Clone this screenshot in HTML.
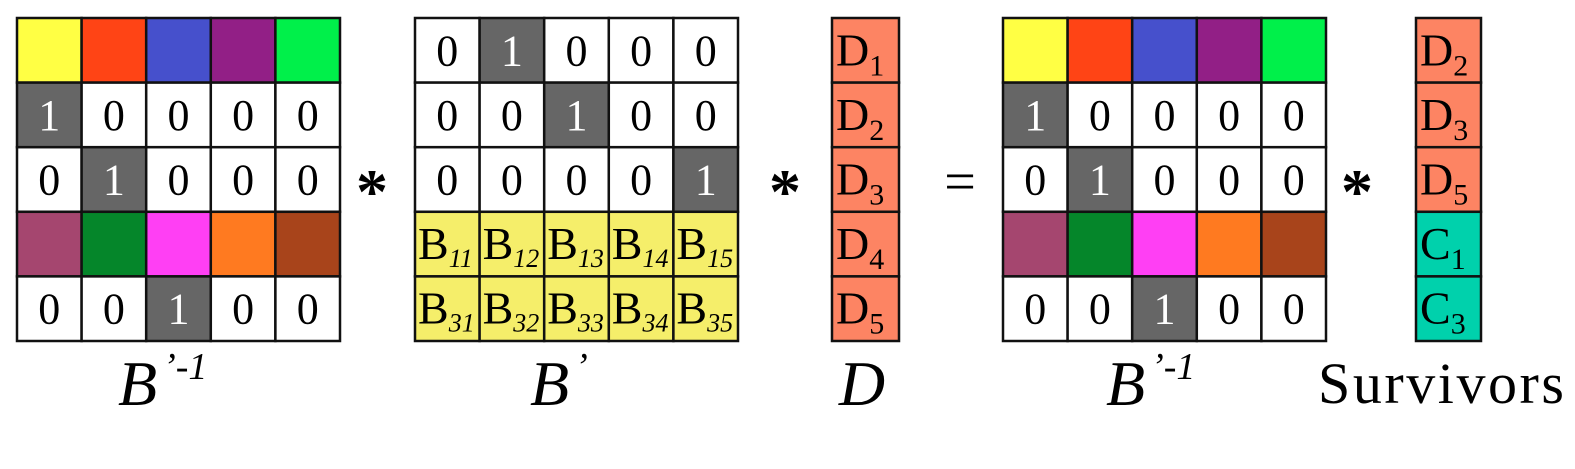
<!DOCTYPE html>
<html><head><meta charset="utf-8"><style>
html,body{margin:0;padding:0;background:#fff;}
svg{display:block;}
svg text{font-family:"Liberation Serif","Times New Roman",Times,"DejaVu Serif",serif;}
</style></head><body>
<svg id="s" width="1575" height="469" viewBox="0 0 1575 469"></svg>
<script>
const binvColors = [
 ["#ffff44","#ff4415","#4650cc","#921f86","#00f04a"],
 [1,0,0,0,0],
 [0,1,0,0,0],
 ["#a5466f","#05862a","#ff3ff4","#ff7a20","#a8441b"],
 [0,0,1,0,0]
];
const bPrime = [
 [0,1,0,0,0],
 [0,0,1,0,0],
 [0,0,0,0,1],
 ["11","12","13","14","15"],
 ["31","32","33","34","35"]
];
const dVec = ["1","2","3","4","5"];
const survLetters = ["D","D","D","C","C"];
const survSubs = ["2","3","5","1","3"];
const CELL = 64.6, TOP = 18;
const s = document.getElementById('s');
const NS = "http://www.w3.org/2000/svg";
function mk(tag, attrs, parent){const e=document.createElementNS(NS,tag);for(const k in attrs)e.setAttribute(k,attrs[k]);(parent||s).appendChild(e);return e;}
function cell(x,y,w,fill,name){
 const r=mk('rect',{x:x,y:y,width:w,height:CELL,fill:fill,stroke:'#111','stroke-width':2.5});
 
 
 return r;
}
function txt(x,y,str,size,fill,name,extra){
 const t=mk('text',Object.assign({x:x,y:y,'font-size':size,fill:fill,'text-anchor':'middle'},extra||{}));
 t.style.fontFamily = '"Liberation Serif", "Times New Roman", Times, "DejaVu Serif", serif';
 t.textContent=str;
 
 
 return t;
}
function drawBinv(x0,prefix){
 binvColors.forEach((row,i)=>row.forEach((v,j)=>{
  const x=x0+j*CELL,y=TOP+i*CELL;
  if(typeof v==='string'){cell(x,y,CELL,v,prefix+'-color-cell');}
  else{
   cell(x,y,CELL,v?'#666':'#fff',prefix+'-cell');
   txt(x+CELL/2,y+CELL/2+15,String(v),44,v?'#fff':'#000',prefix+'-value');
  }
 }));
}
drawBinv(17,'binv-left');
drawBinv(1003,'binv-right');
const x2=415;
bPrime.forEach((row,i)=>row.forEach((v,j)=>{
 const x=x2+j*CELL,y=TOP+i*CELL;
 if(typeof v==='string'){
  cell(x,y,CELL,'#f5ee6a','bprime-b-cell');
  const t=txt(x+3,y+CELL/2+15,'B',46,'#000','bprime-b-label',{'text-anchor':'start'});
  const sub=mk('tspan',{'font-size':26,'font-style':'italic',dy:8},t);sub.textContent=v;
 } else {
  cell(x,y,CELL,v?'#666':'#fff','bprime-cell');
  txt(x+CELL/2,y+CELL/2+15,String(v),44,v?'#fff':'#000','bprime-value');
 }
}));
dVec.forEach((v,i)=>{
 const y=TOP+i*CELL;
 cell(832,y,67,'#fd8463','d-cell');
 const t=txt(836,y+CELL/2+15,'D',46,'#000','d-label',{'text-anchor':'start'});
 const sub=mk('tspan',{'font-size':30,dy:10},t);sub.textContent=v;
});
survLetters.forEach((L,i)=>{
 const y=TOP+i*CELL;
 cell(1416,y,65,L==='D'?'#fd8463':'#00d1ac','survivor-cell');
 const t=txt(1420,y+CELL/2+15,L,46,'#000','survivor-label',{'text-anchor':'start'});
 const sub=mk('tspan',{'font-size':30,dy:10},t);sub.textContent=survSubs[i];
});
txt(372,213,'*',64,'#000','multiply-sign-1',{'font-weight':'bold'});
txt(785,213,'*',64,'#000','multiply-sign-2',{'font-weight':'bold'});
txt(1357,213,'*',64,'#000','multiply-sign-3',{'font-weight':'bold'});
txt(960,200,'=',56,'#000','equals-sign');
function bLabel(x,name,sup){
 const t=txt(x,405,'B',64,'#000',name,{'font-style':'italic','text-anchor':'start'});
 const s2=mk('tspan',{'font-size':38,'font-style':'italic',dy:-26,dx:6},t);s2.textContent=sup;
}
bLabel(118,'binv-left-title','’-1');
bLabel(1106,'binv-right-title','’-1');
bLabel(530,'bprime-title','’');
txt(862,405,'D',64,'#000','d-title',{'font-style':'italic'});
txt(1318,403,'Survivors',58,'#000','survivors-title',{'text-anchor':'start',textLength:246});
</script>
</body></html>
